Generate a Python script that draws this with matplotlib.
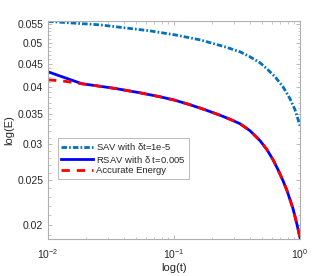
import matplotlib
matplotlib.use("Agg")
import matplotlib.pyplot as plt
from matplotlib.ticker import LogLocator, MultipleLocator, FixedLocator, FixedFormatter, NullFormatter

plt.rcParams['font.family'] = ['Liberation Sans', 'DejaVu Sans']
plt.rcParams['mathtext.fontset'] = 'stix'
plt.rcParams['mathtext.default'] = 'regular'
plt.rcParams['lines.scale_dashes'] = False

# data
t_sav = [0.01, 0.0259, 0.0409, 0.0645, 0.1016, 0.1607, 0.254, 0.334, 0.401, 0.482,
         0.547, 0.634, 0.733, 0.833, 0.913, 1.0]
e_sav = [0.0557, 0.05472, 0.05390, 0.05310, 0.05204, 0.05075, 0.04899, 0.04778, 0.04659, 0.04520,
         0.04384, 0.04212, 0.04005, 0.03771, 0.03568, 0.03292]

t_rsav = [0.01, 0.01862, 0.0259, 0.03528, 0.0537, 0.0774, 0.1018, 0.1340, 0.1762, 0.2317,
          0.2783, 0.3341, 0.4010, 0.4815, 0.5471, 0.6105, 0.6689, 0.7328, 0.7887, 0.8330,
          0.8799, 0.9128, 0.9467, 1.0]
e_rsav = [0.04320, 0.04067, 0.04016, 0.03966, 0.03886, 0.03809, 0.03743, 0.03659, 0.03568, 0.03471,
          0.03401, 0.03325, 0.03210, 0.03053, 0.02917, 0.02774, 0.02638, 0.02496, 0.02373, 0.02268,
          0.02168, 0.02082, 0.02000, 0.01873]

t_acc = [0.01, 0.01364, 0.01862, 0.0259, 0.03528, 0.0537, 0.0774, 0.1018, 0.1340, 0.1762, 0.2317,
         0.2783, 0.3341, 0.4010, 0.4815, 0.5471, 0.6105, 0.6689, 0.7328, 0.7887, 0.8330,
         0.8799, 0.9128, 0.9467, 1.0]
e_acc = [0.04149, 0.04118, 0.04067, 0.04016, 0.03966, 0.03886, 0.03809, 0.03743, 0.03659, 0.03568, 0.03471,
         0.03401, 0.03325, 0.03210, 0.03053, 0.02917, 0.02774, 0.02638, 0.02496, 0.02373, 0.02268,
         0.02168, 0.02082, 0.02000, 0.01873]

labels = ['SAV with $\\delta$t=1e-5', 'RSAV with $\\delta$ t=0.005', 'Accurate Energy']
ytick_vals = [0.02, 0.025, 0.03, 0.035, 0.04, 0.045, 0.05, 0.055]
ytick_labels = ['0.02', '0.025', '0.03', '0.035', '0.04', '0.045', '0.05', '0.055']

fig = plt.figure(figsize=(3.32, 2.76), dpi=100)
ax = fig.add_axes([48/332, 37/276, 252/332, 218/276])

ax.plot(t_sav, e_sav, color='#0072BD', lw=2.0, dashes=(4, 1.5, 1.2, 1.5), label=labels[0])
ax.plot(t_rsav, e_rsav, color='#0000FF', lw=2.0, label=labels[1])
ax.plot(t_acc, e_acc, color='#FF0000', lw=2.0, dashes=(6, 5), label=labels[2])

ax.set_xscale('log')
ax.set_yscale('log')
ax.set_xlim(0.01, 1.0)
ax.set_ylim(0.0186, 0.0558)

ax.yaxis.set_major_locator(FixedLocator(ytick_vals))
ax.yaxis.set_major_formatter(FixedFormatter(ytick_labels))
ax.yaxis.set_minor_locator(MultipleLocator(0.001))
ax.yaxis.set_minor_formatter(NullFormatter())
ax.xaxis.set_major_locator(LogLocator(base=10, numticks=10))
ax.xaxis.set_minor_locator(LogLocator(base=10, subs=range(2, 10), numticks=10))

gray = '#b0b0b0'
for s in ax.spines.values():
    s.set_color(gray)
    s.set_linewidth(0.8)
ax.tick_params(which='both', direction='in', top=True, right=True, color=gray,
               labelsize=7.5, labelcolor='#262626')
ax.tick_params(which='major', length=3, width=0.6)
ax.tick_params(which='minor', length=1.8, width=0.5)
ax.tick_params(axis='x', pad=6)

ax.set_xlabel('log(t)', fontsize=8, color='#262626', labelpad=1)
ax.set_ylabel('log(E)', fontsize=8, color='#262626', labelpad=2)

leg = ax.legend(loc='upper left', bbox_to_anchor=(0.04, 0.463), borderaxespad=0,
                fontsize=6.8, handlelength=3.4, handletextpad=0.3, labelspacing=0.15,
                borderpad=0.35, fancybox=False, framealpha=1, edgecolor=gray)
leg.get_frame().set_linewidth(0.6)
for txt in leg.get_texts():
    txt.set_color('#262626')

fig.savefig('out.png', dpi=100)
